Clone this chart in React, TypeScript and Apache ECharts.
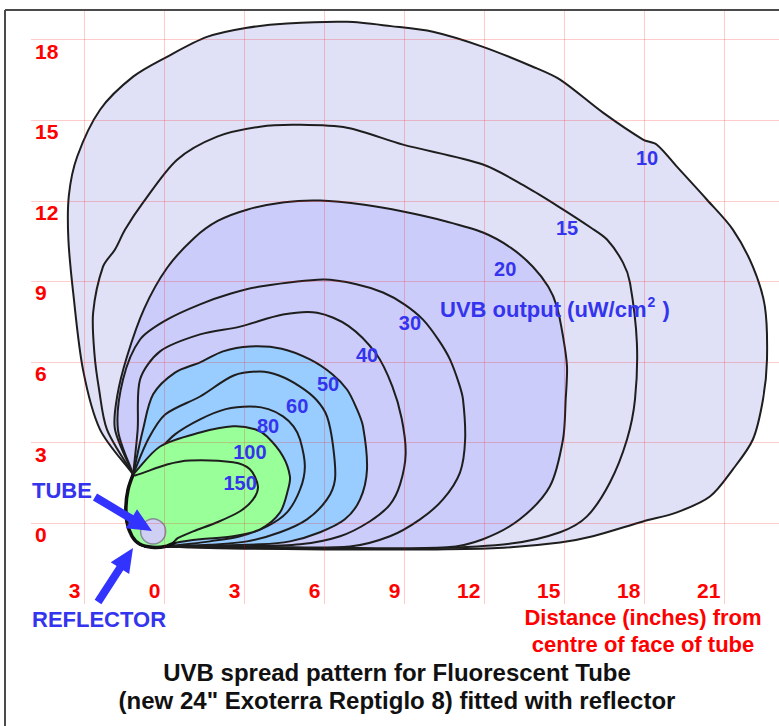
import React, { useEffect, useRef } from 'react';
import * as echarts from 'echarts';

// ---- axis ticks ----
const xTickValues = [-3, 0, 3, 6, 9, 12, 15, 18, 21];
const xTickLabels = ['3', '0', '3', '6', '9', '12', '15', '18', '21'];
const yTickValues = [0, 3, 6, 9, 12, 15, 18];
const yTickLabels = ['0', '3', '6', '9', '12', '15', '18'];
const xGridValues = [-3, 0, 3, 6, 9, 12, 15, 18, 21];
const yGridValues = [0, 3, 6, 9, 12, 15, 18];

// ---- UVB contour levels (uW/cm2) and their outlines, in inches ----
const contourLevels = ['10', '15', '20', '30', '40', '50', '60', '80', '100', '150'];

const contour10 = [
  [-1.17, 1.82], [-2.41, 3.49], [-3.05, 5.72], [-3.42, 8.6], [-3.6, 10.6], [-3.58, 12.2], [-3.27, 13.64],
  [-2.41, 15.39], [-1.17, 16.62], [0.1, 17.36], [1.6, 18.1], [3.1, 18.44], [4.6, 18.6], [6.85, 18.66],
  [8.5, 18.5], [10.07, 18.29], [11.95, 17.73], [13.82, 16.99], [14.84, 16.51], [16.45, 15.28],
  [17.95, 14.28], [18.47, 14.09], [19.22, 13.27], [20.35, 12.04], [21.32, 10.93], [22.07, 9.55],
  [22.52, 8.07], [22.6, 6.1], [22.45, 4.61], [22.07, 3.12], [21.32, 2.01], [20.46, 1.0], [19.22, 0.41],
  [17.95, 0.07], [16.07, -0.48], [14.84, -0.71], [12.5, -0.92], [10, -0.97], [6, -0.97], [3, -0.94], [1, -0.9],
];
const contour15 = [
  [-1.17, 1.82], [-2.15, 3.49], [-2.45, 5.0], [-2.62, 6.3], [-2.67, 7.84], [-2.3, 9.55], [-1.85, 10.19],
  [-1.47, 10.93], [-0.8, 11.93], [0.48, 13.53], [1.98, 14.39], [3.59, 14.76], [4.98, 14.83], [6.85, 14.72],
  [8.95, 14.09], [11.95, 13.35], [13.6, 12.5], [14.84, 11.75], [16.0, 11.0], [16.6, 10.56], [17.2, 9.7],
  [17.46, 8.96], [17.72, 6.73], [17.65, 4.61], [17.35, 3.12], [16.71, 1.52], [15.85, 0.26], [14.84, -0.33],
  [13.0, -0.75], [10, -0.92], [6, -0.93], [3, -0.91], [1, -0.88],
];
const contour20 = [
  [-1.17, 1.82], [-1.85, 3.49], [-1.77, 4.72], [-1.4, 6.21], [-0.75, 8.0], [0.1, 9.5], [1.1, 10.6],
  [2.0, 11.25], [3.1, 11.67], [4.5, 11.95], [5.84, 12.01], [7.5, 11.85], [8.95, 11.6], [10.5, 11.25],
  [11.95, 10.82], [13.0, 10.25], [13.82, 9.55], [14.4, 8.8], [14.72, 8.07], [14.95, 6.96], [15.1, 5.84],
  [15.05, 4.6], [14.95, 3.12], [14.46, 1.38], [13.33, 0.15], [11.95, -0.59], [10.6, -0.89], [6, -0.91],
  [3, -0.89], [1, -0.87],
];
const contour30 = [
  [-1.17, 1.82], [-1.74, 3.49], [-1.55, 5.35], [-0.91, 6.84], [0.1, 7.58], [1.34, 8.15], [2.5, 8.55],
  [3.59, 8.81], [5.95, 9.07], [7.2, 8.9], [8.2, 8.59], [9.0, 8.15], [9.7, 7.58], [10.3, 6.8], [10.71, 6.1],
  [11.05, 5.2], [11.2, 4.61], [11.28, 3.12], [11.09, 1.9], [10.45, 0.89], [9.59, 0.15], [8.46, -0.48],
  [6.96, -0.86], [4, -0.88], [1, -0.86],
];
const contour40 = [
  [-1.17, 1.82], [-1.0, 3.49], [-0.91, 5.35], [-0.16, 6.4], [1.34, 7.03], [2.84, 7.32], [4.45, 7.77],
  [5.73, 7.84], [6.9, 7.35], [7.95, 6.3], [8.55, 5.1], [8.9, 3.9], [9.05, 2.6], [8.84, 1.45], [8.46, 0.7],
  [7.7, 0.07], [6.59, -0.48], [5.09, -0.78], [3, -0.85], [1, -0.84],
];
const contour50 = [
  [-1.17, 1.82], [-0.8, 3.49], [-0.42, 4.8], [0.4, 5.61], [1.34, 5.99], [2.2, 6.4], [3.21, 6.58],
  [4.4, 6.5], [5.46, 6.1], [6.3, 5.55], [6.85, 4.98], [7.2, 4.3], [7.45, 3.61], [7.6, 2.01], [7.34, 0.89],
  [6.77, 0.15], [5.84, -0.33], [4.71, -0.67], [3.59, -0.78], [1, -0.83],
];
const contour60 = [
  [-1.17, 1.82], [-0.61, 3.12], [0.03, 4.05], [1.34, 4.72], [2.6, 5.5], [3.59, 5.65], [4.3, 5.5],
  [5.09, 5.09], [5.7, 4.6], [6.1, 3.98], [6.33, 2.86], [6.4, 1.64], [6.1, 0.89], [5.35, 0.15],
  [4.34, -0.33], [3.1, -0.67], [1.7, -0.8], [1, -0.82],
];
const contour80 = [
  [-1.17, 1.82], [-0.35, 2.57], [0.4, 3.31], [1.34, 3.87], [2.3, 4.25], [3.21, 4.35], [3.9, 4.25],
  [4.45, 3.98], [4.85, 3.6], [5.09, 3.12], [5.27, 2.12], [5.09, 1.26], [4.6, 0.41], [3.85, -0.11],
  [2.84, -0.48], [1.71, -0.67], [1, -0.76],
];
const contour100 = [
  [-1.17, 1.82], [-0.16, 2.86], [1.34, 3.38], [2.58, 3.61], [3.4, 3.5], [3.85, 3.23], [4.45, 2.49],
  [4.71, 1.75], [4.64, 1.26], [4.34, 0.41], [3.59, -0.22], [2.58, -0.48], [1.34, -0.59], [0.48, -0.71],
];
const contour150 = [
  [-1.1, 1.78], [0.1, 2.19], [0.96, 2.34], [2.58, 2.27], [3.21, 2.01], [3.51, 1.38], [3.33, 0.89],
  [2.84, 0.45], [1.98, 0.04], [1.08, -0.3], [0.5, -0.55], [0.3, -0.75],
];
const contours = [contour10, contour15, contour20, contour30, contour40, contour50, contour60, contour80, contour100, contour150];

// reflector outline and tube (inches)
const reflectorPath = [
  [-1.17, 1.82], [-1.36, 1.26], [-1.44, 0.63], [-1.4, 0.04], [-1.21, -0.48], [-0.91, -0.78],
  [-0.46, -0.89], [0.03, -0.86], [0.4, -0.71],
];
const tubeCentre = [-0.42, -0.3];
const tubeRadius = 0.47;

// contour label anchors (inches)
const contourLabelPos = [
  [18.1, 13.61], [15.1, 11.0], [12.78, 9.48], [9.21, 7.47], [7.6, 6.25],
  [6.14, 5.17], [4.98, 4.35], [3.89, 3.61], [3.21, 2.64], [2.84, 1.49],
];

// ---- styles ----
const FONT = '"Liberation Sans", Arial, Helvetica, sans-serif';
const LAV1 = '#e0e0f7';
const LAV2 = '#ccccfa';
const BLUE = '#99ccff';
const GREEN = '#99ff99';
const contourFills = [LAV1, LAV1, LAV2, LAV2, LAV2, BLUE, BLUE, BLUE, GREEN, GREEN];
const TEXT_BLUE = '#3434ee';
const ARROW_BLUE = '#3333ff';

function arrowPoints(tail: number[], tip: number[], shaftHalf: number, headLen: number, headHalf: number) {
  const dx = tip[0] - tail[0];
  const dy = tip[1] - tail[1];
  const L = Math.hypot(dx, dy);
  const ux = dx / L, uy = dy / L;
  const nx = -uy, ny = ux;
  const bx = tip[0] - ux * headLen, by = tip[1] - uy * headLen;
  return [
    [tail[0] + nx * shaftHalf, tail[1] + ny * shaftHalf],
    [bx + nx * shaftHalf, by + ny * shaftHalf],
    [bx + nx * headHalf, by + ny * headHalf],
    [tip[0], tip[1]],
    [bx - nx * headHalf, by - ny * headHalf],
    [bx - nx * shaftHalf, by - ny * shaftHalf],
    [tail[0] - nx * shaftHalf, tail[1] - ny * shaftHalf],
  ];
}

export default function App() {
  const ref = useRef<HTMLDivElement>(null);
  useEffect(() => {
    if (!ref.current) return;
    const chart = echarts.init(ref.current, null, { renderer: 'svg' });
    const closure = reflectorPath.slice(0, reflectorPath.length - 1).reverse();
    const polys = contours.map((c) => [...c, ...closure]);

    const option: any = {
      animation: false,
      backgroundColor: '#ffffff',
      grid: { left: 31, right: 0, top: 10, bottom: 122, containLabel: false },
      xAxis: {
        type: 'value', min: -5, max: 23.05,
        axisLine: { show: false }, axisTick: { show: false }, splitLine: { show: false },
        axisLabel: {
          inside: true, customValues: xTickValues,
          formatter: (v: number) => { const i = xTickValues.indexOf(v); return i >= 0 ? xTickLabels[i] : ''; },
          color: '#ff0000', fontWeight: 'bold', fontSize: 21, fontFamily: FONT,
          align: 'right', verticalAlign: 'middle', margin: 14, padding: [0, 4, 0, 0],
        },
      },
      yAxis: {
        type: 'value', min: -3, max: 19.1,
        axisLine: { show: false }, axisTick: { show: false }, splitLine: { show: false },
        axisLabel: {
          inside: true, customValues: yTickValues,
          formatter: (v: number) => { const i = yTickValues.indexOf(v); return i >= 0 ? yTickLabels[i] : ''; },
          color: '#ff0000', fontWeight: 'bold', fontSize: 21, fontFamily: FONT,
          align: 'left', verticalAlign: 'top', margin: 4, padding: [1, 0, 0, 0],
        },
      },
      series: [
        {
          type: 'custom', coordinateSystem: 'cartesian2d', z: 2, silent: true, clip: false,
          data: polys.map((_, i) => [i, i]),
          renderItem: (params: any, api: any) => {
            const i = params.dataIndex;
            const pts = polys[i].map((p) => api.coord(p));
            return {
              type: 'polygon',
              shape: { points: pts, smooth: 0.3 },
              style: { fill: contourFills[i], stroke: '#1e1e1e', lineWidth: 2 },
            };
          },
        },
        {
          type: 'line', data: [], z: 3, silent: true,
          markLine: {
            silent: true, symbol: ['none', 'none'], animation: false,
            label: { show: false },
            lineStyle: { color: 'rgba(255,0,0,0.2)', width: 1, type: 'solid' },
            emphasis: { disabled: true },
            data: [
              ...xGridValues.map((v) => ({ xAxis: v })),
              ...yGridValues.map((v) => ({ yAxis: v })),
            ],
          },
        },
        {
          type: 'custom', coordinateSystem: 'cartesian2d', z: 4, silent: true, clip: false,
          data: [[0, 0]],
          renderItem: (params: any, api: any) => {
            const pts = reflectorPath.map((p) => api.coord(p));
            const c = api.coord(tubeCentre);
            const r = api.size([tubeRadius, 0])[0];
            return {
              type: 'group',
              children: [
                { type: 'polyline', shape: { points: pts, smooth: 0.3 }, style: { stroke: '#111', lineWidth: 3.5, fill: 'none' } },
                { type: 'circle', shape: { cx: c[0], cy: c[1], r }, style: { fill: '#cfcff3', stroke: '#8a8a9a', lineWidth: 1.5 } },
              ],
            };
          },
        },
        {
          type: 'custom', coordinateSystem: 'cartesian2d', z: 5, silent: true, clip: false,
          data: contourLabelPos.map((p, i) => [p[0], p[1], i]),
          renderItem: (params: any, api: any) => {
            const i = params.dataIndex;
            const c = api.coord([api.value(0), api.value(1)]);
            return {
              type: 'text',
              x: c[0], y: c[1],
              style: {
                text: contourLevels[i], fill: TEXT_BLUE, font: `bold 20px ${FONT}`,
                align: 'center', verticalAlign: 'middle', textAlign: 'center', textVerticalAlign: 'middle',
              },
            };
          },
        },
      ],
      graphic: [
        { type: 'line', shape: { x1: 5, y1: 10, x2: 779, y2: 10 }, style: { stroke: '#4a4a4a', lineWidth: 2 }, z: 10 },
        { type: 'line', shape: { x1: 5, y1: 10, x2: 5, y2: 726 }, style: { stroke: '#4a4a4a', lineWidth: 2 }, z: 10 },
        { type: 'polygon', shape: { points: arrowPoints([95, 497], [152, 531], 4, 24, 11) }, style: { fill: ARROW_BLUE }, z: 10 },
        { type: 'polygon', shape: { points: arrowPoints([98, 602], [133, 548], 4, 24, 11) }, style: { fill: ARROW_BLUE }, z: 10 },
        { type: 'text', x: 32, y: 490, style: { text: 'TUBE', fill: TEXT_BLUE, font: `bold 22px ${FONT}`, textVerticalAlign: 'middle', verticalAlign: 'middle' }, z: 10 },
        { type: 'text', x: 32, y: 619, style: { text: 'REFLECTOR', fill: TEXT_BLUE, font: `bold 22px ${FONT}`, textVerticalAlign: 'middle', verticalAlign: 'middle' }, z: 10 },
        {
          type: 'text', x: 440, y: 309, z: 10,
          style: {
            text: '{a|UVB output (uW/cm}{s|2}{a| )}',
            textVerticalAlign: 'middle', verticalAlign: 'middle',
            rich: {
              a: { fontSize: 22, fontWeight: 'bold', fontFamily: FONT, fill: TEXT_BLUE, color: TEXT_BLUE },
              s: { fontSize: 14, fontWeight: 'bold', fontFamily: FONT, fill: TEXT_BLUE, color: TEXT_BLUE, padding: [0, 1, 14, 1] },
            },
          },
        },
        { type: 'text', x: 643, y: 617, style: { text: 'Distance (inches) from', fill: '#ff0000', font: `bold 22px ${FONT}`, textAlign: 'center', align: 'center', textVerticalAlign: 'middle', verticalAlign: 'middle' }, z: 10 },
        { type: 'text', x: 643, y: 644, style: { text: 'centre of face of tube', fill: '#ff0000', font: `bold 22px ${FONT}`, textAlign: 'center', align: 'center', textVerticalAlign: 'middle', verticalAlign: 'middle' }, z: 10 },
        { type: 'text', x: 397, y: 672, style: { text: 'UVB spread pattern for Fluorescent Tube', fill: '#111', font: `bold 24px ${FONT}`, textAlign: 'center', align: 'center', textVerticalAlign: 'middle', verticalAlign: 'middle' }, z: 10 },
        { type: 'text', x: 397, y: 700, style: { text: '(new 24" Exoterra Reptiglo 8) fitted with reflector', fill: '#111', font: `bold 24px ${FONT}`, textAlign: 'center', align: 'center', textVerticalAlign: 'middle', verticalAlign: 'middle' }, z: 10 },
      ],
    };
    chart.setOption(option);
    return () => chart.dispose();
  }, []);
  return (
    <div
      ref={ref}
      style={{ position: 'absolute', left: 0, top: 0, width: 779, height: 726, background: '#fff' }}
    />
  );
}
